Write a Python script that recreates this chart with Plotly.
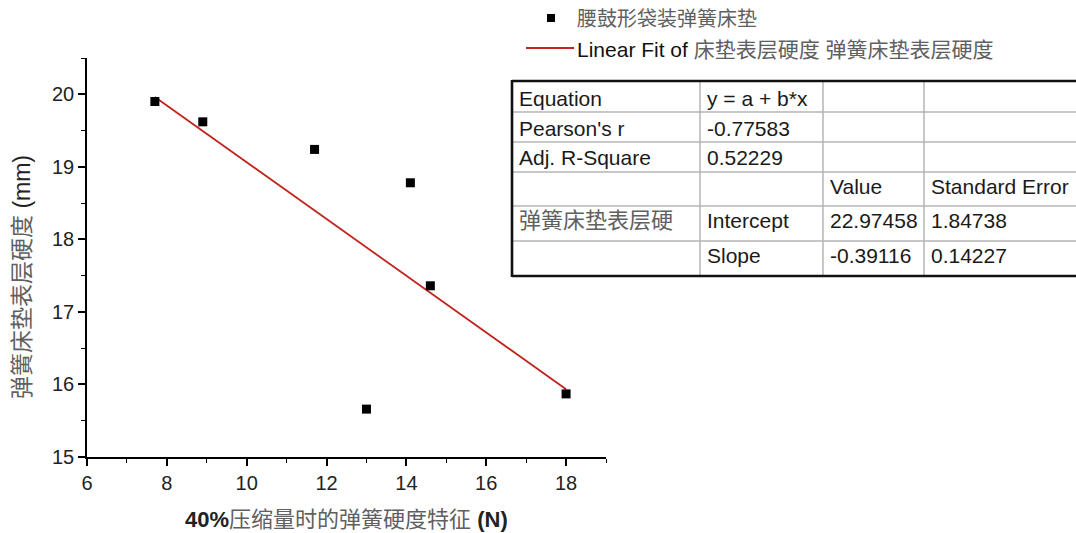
import plotly.graph_objects as go

# Spring hardness at 40% compression (N) vs. mattress surface hardness (mm)
spring_hardness = [7.7, 8.9, 11.7, 14.1, 14.6, 13.0, 18.0]
surface_hardness = [19.90, 19.62, 19.24, 18.78, 17.36, 15.66, 15.87]

# Linear fit results
fit_intercept = 22.97458
fit_slope = -0.39116

# Fit statistics table (rows x columns)
table_rows = [
    ["Equation", "y = a + b*x", "", ""],
    ["Pearson's r", "-0.77583", "", ""],
    ["Adj. R-Square", "0.52229", "", ""],
    ["", "", "Value", "Standard Error"],
    ["弹簧床垫表层硬", "Intercept", "22.97458", "1.84738"],
    ["", "Slope", "-0.39116", "0.14227"],
]

x_ticks = [6, 8, 10, 12, 14, 16, 18]
y_ticks = [15, 16, 17, 18, 19, 20]

W, H = 1076, 533
PL, PR, PT, PB = 87, 606, 58, 457  # plot area in pixels


def px(xp):
    return (xp - PL) / (PR - PL)


def py(yp):
    return (PB - yp) / (PB - PT)


LATIN = "Liberation Sans, Arial, Noto Sans CJK SC, sans-serif"
CJK_GRAY = "#606060"

fig = go.Figure()

x_lo, x_hi = min(spring_hardness), max(spring_hardness)
fig.add_trace(go.Scatter(
    x=[x_lo, x_hi],
    y=[fit_intercept + fit_slope * x_lo, fit_intercept + fit_slope * x_hi],
    mode="lines",
    line=dict(color="#c0241c", width=1.8),
    showlegend=False,
    hoverinfo="skip",
))
fig.add_trace(go.Scatter(
    x=spring_hardness,
    y=surface_hardness,
    mode="markers",
    marker=dict(symbol="square", size=9, color="black"),
    showlegend=False,
))

axis_common = dict(
    showline=True, linecolor="black", linewidth=1.6,
    ticks="outside", ticklen=7, tickwidth=1.6, tickcolor="black",
    showgrid=False, zeroline=False,
    tickfont=dict(family=LATIN, size=20, color="#222"),
)
fig.update_xaxes(range=[6, 19], tickvals=x_ticks,
                 minor=dict(dtick=1, ticks="outside", ticklen=4, tickwidth=1.4, tickcolor="black"),
                 **axis_common)
fig.update_yaxes(range=[15, 20.5], tickvals=y_ticks,
                 minor=dict(dtick=0.5, ticks="outside", ticklen=4, tickwidth=1.4, tickcolor="black"),
                 **axis_common)

shapes = []
annotations = []

# Axis titles
annotations.append(dict(
    xref="paper", yref="paper", x=px(346), y=py(519), xanchor="center", yanchor="middle",
    text=f"<b>40%</b><span style='color:{CJK_GRAY}'>压缩量时的弹簧硬度特征</span> <b>(N)</b>",
    showarrow=False, font=dict(family=LATIN, size=22, color="#222"),
))
annotations.append(dict(
    xref="paper", yref="paper", x=px(22), y=py(277), xanchor="center", yanchor="middle",
    textangle=-90,
    text=f"<span style='color:{CJK_GRAY}'>弹簧床垫表层硬度</span> (mm)",
    showarrow=False, font=dict(family=LATIN, size=23, color="#222"),
))

# Legend
shapes.append(dict(type="rect", xref="paper", yref="paper",
                   x0=px(547), x1=px(555), y0=py(22), y1=py(14),
                   fillcolor="black", line=dict(width=0)))
annotations.append(dict(
    xref="paper", yref="paper", x=px(575), y=py(19), xanchor="left", yanchor="middle",
    text="腰鼓形袋装弹簧床垫", showarrow=False,
    font=dict(family=LATIN, size=20, color=CJK_GRAY),
))
shapes.append(dict(type="line", xref="paper", yref="paper",
                   x0=px(526), x1=px(574), y0=py(48), y1=py(48),
                   line=dict(color="#c0241c", width=2)))
annotations.append(dict(
    xref="paper", yref="paper", x=px(575), y=py(49), xanchor="left", yanchor="middle",
    text=f"Linear Fit of <span style='color:{CJK_GRAY}'>床垫表层硬度 弹簧床垫表层硬度</span>",
    showarrow=False, font=dict(family=LATIN, size=21, color="#111"),
))

# Fit statistics table
row_edges = [81, 112, 142, 172, 206, 241, 276]
col_edges = [512, 700, 823, 924, 1085]
text_y = [98, 128, 157, 186, 220, 255]
GRID = "#b4b4b4"

for yline in row_edges[1:-1]:
    shapes.append(dict(type="line", xref="paper", yref="paper",
                       x0=px(col_edges[0]), x1=px(col_edges[-1]), y0=py(yline), y1=py(yline),
                       line=dict(color=GRID, width=1.5)))
for xline in col_edges[1:-1]:
    shapes.append(dict(type="line", xref="paper", yref="paper",
                       x0=px(xline), x1=px(xline), y0=py(row_edges[0]), y1=py(row_edges[-1]),
                       line=dict(color=GRID, width=1.5)))
for yline in (row_edges[0], row_edges[-1]):
    shapes.append(dict(type="line", xref="paper", yref="paper",
                       x0=px(col_edges[0]), x1=px(col_edges[-1]), y0=py(yline), y1=py(yline),
                       line=dict(color="#111", width=2.6)))
shapes.append(dict(type="line", xref="paper", yref="paper",
                   x0=px(col_edges[0]), x1=px(col_edges[0]), y0=py(row_edges[0] - 1), y1=py(row_edges[-1] + 1),
                   line=dict(color="#111", width=2.6)))

for r, row in enumerate(table_rows):
    for c, cell in enumerate(row):
        if not cell:
            continue
        is_cjk = any("\u4e00" <= ch <= "\u9fff" for ch in cell)
        annotations.append(dict(
            xref="paper", yref="paper", x=px(col_edges[c] + 5), y=py(text_y[r]),
            xanchor="left", yanchor="middle", text=cell, showarrow=False,
            font=dict(family=LATIN, size=22 if is_cjk else 21,
                      color=CJK_GRAY if is_cjk else "#1a1a1a"),
        ))

fig.update_layout(
    width=W, height=H,
    margin=dict(l=PL, r=W - PR, t=PT, b=H - PB, pad=0),
    paper_bgcolor="white", plot_bgcolor="white",
    shapes=shapes, annotations=annotations,
    showlegend=False,
)

fig.write_html("out.html")
